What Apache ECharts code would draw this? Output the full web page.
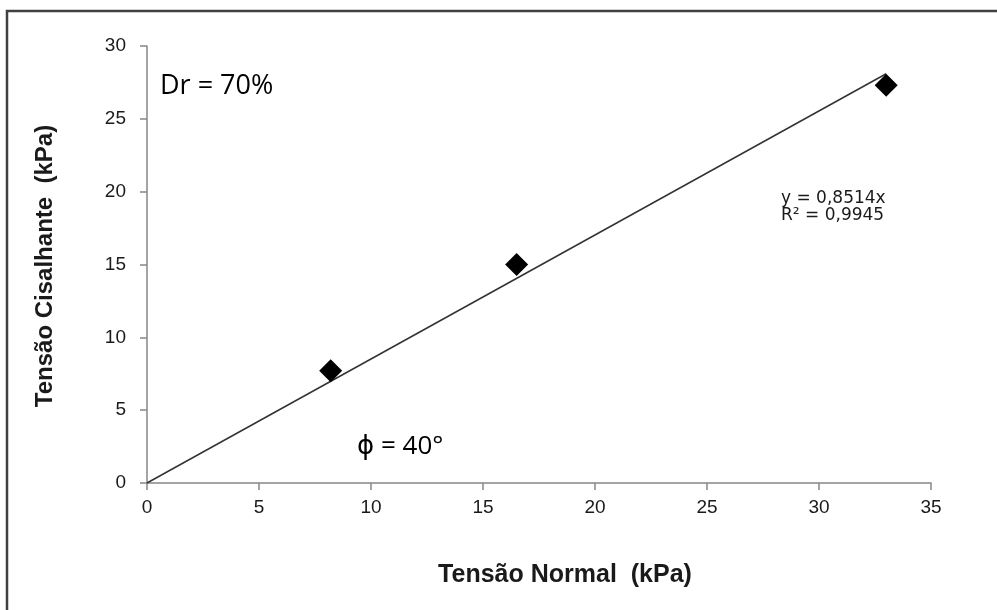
<!DOCTYPE html>
<html>
<head>
<meta charset="utf-8">
<script src="https://cdn.jsdelivr.net/npm/echarts@6/dist/echarts.min.js"></script>
<style>html,body{margin:0;padding:0;background:#fff}#c{width:997px;height:610px}</style>
</head>
<body>
<div id="c"></div>
<script>
const normalStress = [8.2, 16.5, 33.0];
const shearStress = [7.7, 15.0, 27.3];
const trendSlope = 0.8514;
const trendX = [0, 33.0];
const xTicks = [0, 5, 10, 15, 20, 25, 30, 35];
const yTicks = [0, 5, 10, 15, 20, 25, 30];
const xTitle = 'Tensão Normal  (kPa)';
const yTitle = 'Tensão Cisalhante  (kPa)';
const noteDr = 'Dr = 70%';
const notePhi = 'ϕ = 40°';
const eqLines = ['y = 0,8514x', 'R² = 0,9945'];

const chart = echarts.init(document.getElementById('c'), null, {renderer: 'canvas'});
const axisColor = '#868686';
const titleFont = 'bold 25px "Liberation Sans", Arial, sans-serif';
chart.setOption({
  animation: false,
  backgroundColor: '#fff',
  grid: {left: 147, right: 66, top: 46, bottom: 127},
  xAxis: {
    type: 'value', min: xTicks[0], max: xTicks[xTicks.length - 1], interval: 5,
    axisLine: {lineStyle: {color: axisColor, width: 1.5}},
    axisTick: {show: true, length: 7, lineStyle: {color: axisColor, width: 1.5}},
    axisLabel: {fontFamily: 'Liberation Sans', fontSize: 19, color: '#1a1a1a', margin: 15},
    splitLine: {show: false}
  },
  yAxis: {
    type: 'value', min: yTicks[0], max: yTicks[yTicks.length - 1], interval: 5,
    axisLine: {show: true, lineStyle: {color: axisColor, width: 1.5}},
    axisTick: {show: true, length: 7, lineStyle: {color: axisColor, width: 1.5}},
    axisLabel: {fontFamily: 'Liberation Sans', fontSize: 19, color: '#1a1a1a', margin: 21},
    splitLine: {show: false}
  },
  series: [
    {
      type: 'line', data: trendX.map(x => [x, trendSlope * x]),
      showSymbol: false, symbol: 'none',
      lineStyle: {color: '#333', width: 1.5}, z: 2
    },
    {
      type: 'scatter', data: normalStress.map((x, i) => [x, shearStress[i]]),
      symbol: 'diamond', symbolSize: [23, 23],
      itemStyle: {color: '#000', opacity: 1}, z: 3
    }
  ],
  graphic: [
    {type: 'rect', shape: {x: 7, y: 11, width: 1200, height: 1000}, style: {fill: 'none', stroke: '#404040', lineWidth: 2.5}, silent: true, z: -1},
    {type: 'text', x: 160, y: 86, style: {text: noteDr, font: '27px "Open Sans", "Liberation Sans", sans-serif', fill: '#000', verticalAlign: 'middle'}},
    {type: 'text', x: 357, y: 447, style: {text: notePhi, font: '26px "Open Sans", "DejaVu Sans", sans-serif', fill: '#000', verticalAlign: 'middle'}},
    {type: 'text', x: 781, y: 199, style: {text: eqLines[0], font: '17px "DejaVu Sans", sans-serif', fill: '#1a1a1a', verticalAlign: 'middle'}},
    {type: 'text', x: 781, y: 216, style: {text: eqLines[1], font: '17px "DejaVu Sans", sans-serif', fill: '#1a1a1a', verticalAlign: 'middle'}},
    {type: 'text', x: 565, y: 575, style: {text: xTitle, font: titleFont, fill: '#1a1a1a', align: 'center', verticalAlign: 'middle'}},
    {type: 'text', x: 45, y: 266, rotation: Math.PI / 2, style: {text: yTitle, font: 'bold 24px "Liberation Sans", Arial, sans-serif', fill: '#1a1a1a', align: 'center', verticalAlign: 'middle'}}
  ]
});
</script>
</body>
</html>
